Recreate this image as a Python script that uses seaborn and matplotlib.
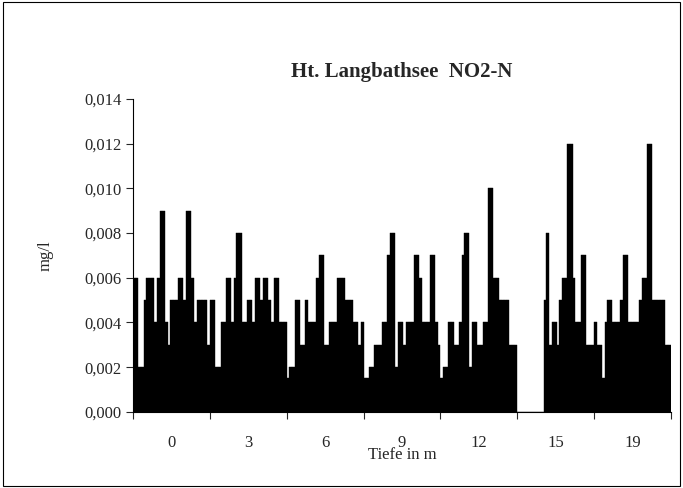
import matplotlib
matplotlib.use("Agg")
import matplotlib.pyplot as plt
from matplotlib.patches import Rectangle
import seaborn as sns
import pandas as pd

depths = ["0", "3", "6", "9", "12", "15", "19"]
g0 = [.006, .006, .002, .002, .005, .006, .006, .006, .004, .006, .009, .009, .004, .003, .005,
      .005, .005, .006, .006, .005, .009, .009, .006, .004, .005, .005, .005, .005, .003]
g3 = [.005, .005, .002, .002, .004, .004, .006, .006, .004, .006, .008, .008, .004, .004, .005,
      .005, .004, .006, .006, .005, .006, .006, .005, .004, .006, .006, .004, .004, .004]
g6 = [.0015, .002, .002, .005, .005, .003, .003, .005, .004, .004, .004, .006, .007, .007, .003,
      .003, .004, .004, .004, .006, .006, .006, .005, .005, .005, .004, .004, .003, .004]
g9 = [.0015, .0015, .002, .002, .003, .003, .003, .004, .004, .007, .008, .008, .002, .004, .004,
      .003, .004, .004, .004, .007, .007, .006, .004, .004, .004, .007, .007, .004, .003]
g12 = [.0015, .002, .002, .004, .004, .003, .003, .004, .007, .008, .008, .002, .004, .004, .003,
       .003, .004, .004, .010, .010, .006, .006, .005, .005, .005, .005, .003, .003, .003]
g15 = [0, 0, 0, 0, 0, 0, 0, 0, 0, 0, .005, .008, .003, .004, .004, .003, .005, .006, .006,
       .012, .012, .006, .004, .004, .007, .007, .003, .003, .003]
g19 = [.004, .003, .003, .0015, .004, .005, .005, .004, .004, .004, .005, .007, .007, .004, .004,
       .004, .004, .005, .006, .006, .012, .012, .005, .005, .005, .005, .005, .003, .003]
groups = [g0, g3, g6, g9, g12, g15, g19]

n = len(g0)
rows = []
for gi, vals in enumerate(groups):
    for j, v in enumerate(vals):
        rows.append({"pos": gi * n + j + 0.5, "val": v})
df = pd.DataFrame(rows)

sns.set_style("white")
plt.rcParams["font.family"] = ["Liberation Serif", "DejaVu Serif"]

fig = plt.figure(figsize=(6.83, 4.88), dpi=100)
ax = fig.add_axes([0.195, 0.156, 0.787, 0.641])
sns.barplot(df, x="pos", y="val", native_scale=True, width=1.0, color="black",
            edgecolor="black", linewidth=0.3, saturation=1, ax=ax)

ax.set_xlim(0, n * len(groups))
ax.set_ylim(0, 0.014)
ax.set_yticks([i * 0.002 for i in range(8)])
ax.set_yticklabels([f"{i * 0.002:.3f}".replace(".", ",") for i in range(8)], fontsize=12)
ax.set_xticks([i * n for i in range(len(groups) + 1)])
ax.set_xticklabels([])
ax.set_xticks([i * n + n / 2 for i in range(len(groups))], minor=True)
ax.set_xticklabels(depths, minor=True, fontsize=12)
ax.tick_params(axis="x", which="minor", length=0, pad=17)
ax.tick_params(axis="both", which="major", direction="out", length=5, width=0.8, left=True, bottom=True)
ax.set_xlabel("Tiefe in m", fontsize=12, labelpad=-3)
ax.set_ylabel("mg/l", fontsize=12, labelpad=22)
for s in ["top", "right"]:
    ax.spines[s].set_visible(False)
ax.spines["left"].set_color("black")
ax.spines["bottom"].set_color("black")
ax.set_title("Ht. Langbathsee  NO2-N", fontsize=15, fontweight="bold", pad=16)

fig.patches.append(Rectangle((0.004, 0.004), 0.992, 0.992, transform=fig.transFigure,
                             fill=False, edgecolor="black", linewidth=0.8))
fig.savefig("out.png", dpi=100)
